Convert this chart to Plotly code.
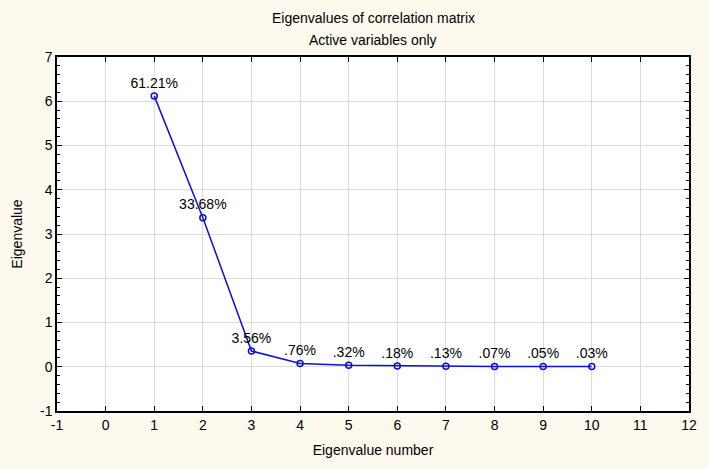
import plotly.graph_objects as go

eig_num = [1, 2, 3, 4, 5, 6, 7, 8, 9, 10]
eig_val = [6.121, 3.368, 0.356, 0.076, 0.032, 0.018, 0.013, 0.007, 0.005, 0.003]
pct_labels = ["61.21%", "33.68%", "3.56%", ".76%", ".32%", ".18%", ".13%", ".07%", ".05%", ".03%"]
x_ticks = list(range(-1, 13))
y_ticks = list(range(-1, 8))

FONT = "Arial, Liberation Sans, sans-serif"

fig = go.Figure()
fig.add_trace(go.Scatter(
    x=eig_num, y=eig_val, mode="lines+markers+text",
    text=pct_labels, textposition="top center",
    textfont=dict(family=FONT, size=14, color="black"),
    line=dict(color="#1010D0", width=1.5),
    marker=dict(symbol="circle-open", size=6, color="#1010D0", line=dict(width=1.5)),
    cliponaxis=False, showlegend=False,
))

axis_common = dict(
    showline=True, linecolor="black", linewidth=1.5, mirror="ticks",
    ticks="inside", ticklen=5, tickcolor="black",
    showgrid=True, gridcolor="#DCDCDC", gridwidth=1, zeroline=False,
    tickfont=dict(family=FONT, size=14, color="black"),
)

fig.update_xaxes(range=[-1, 12], tickvals=x_ticks, ticktext=[str(v) for v in x_ticks],
                 title=dict(text="Eigenvalue number", font=dict(family=FONT, size=14, color="black"), standoff=14),
                 **axis_common)
fig.update_yaxes(range=[-1, 7], tickvals=y_ticks, ticktext=[str(v) for v in y_ticks],
                 minor=dict(dtick=0.2, tick0=-1, ticks="inside", ticklen=3, tickcolor="black", showgrid=False),
                 title=dict(text="Eigenvalue", font=dict(family=FONT, size=14, color="black"), standoff=14),
                 **axis_common)

fig.update_layout(
    width=709, height=469,
    paper_bgcolor="#FDF9EE", plot_bgcolor="white",
    margin=dict(l=57, r=16, t=57, b=58),
    annotations=[
        dict(text="Eigenvalues of correlation matrix", xref="paper", yref="paper",
             x=0.5, y=1.110, xanchor="center", yanchor="middle", showarrow=False,
             font=dict(family=FONT, size=14, color="black")),
        dict(text="Active variables only", xref="paper", yref="paper",
             x=0.5, y=1.048, xanchor="center", yanchor="middle", showarrow=False,
             font=dict(family=FONT, size=14, color="black")),
    ],
)

fig.write_html("out.html", config={"displayModeBar": False},
               post_script="document.body.style.margin='0';document.body.style.overflow='hidden';")
